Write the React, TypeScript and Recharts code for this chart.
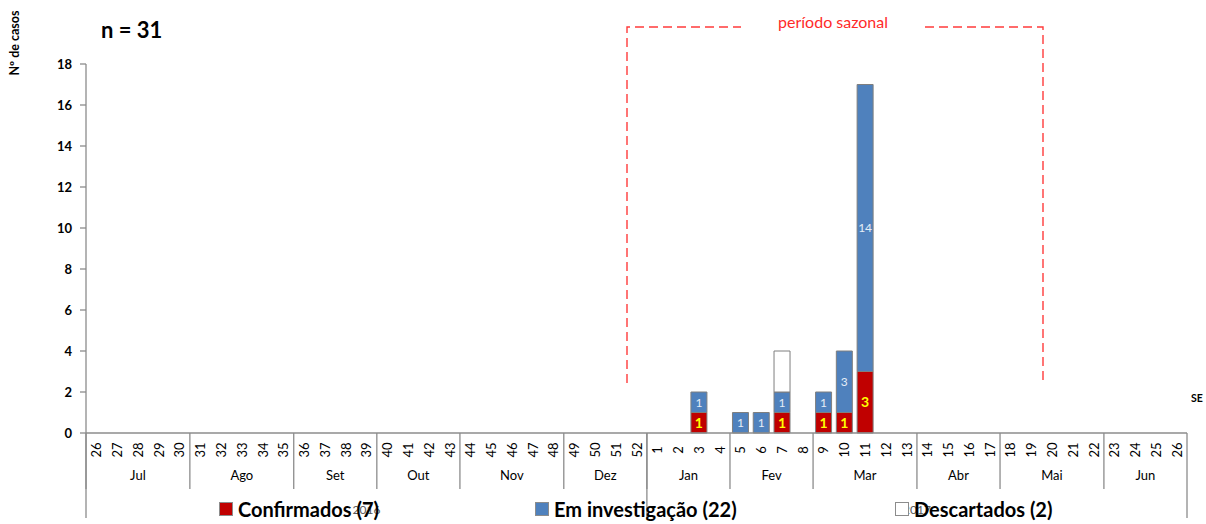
import React from 'react';
import { Bar, BarChart, XAxis, YAxis, Legend, LabelList } from 'recharts';

// semanas epidemiológicas (SE 26/2016 até SE 26/2017)
const weeks = [
  '26', '27', '28', '29', '30', '31', '32', '33', '34', '35', '36', '37', '38', '39', '40', '41', '42', '43',
  '44', '45', '46', '47', '48', '49', '50', '51', '52',
  '1', '2', '3', '4', '5', '6', '7', '8', '9', '10', '11', '12', '13', '14', '15', '16', '17', '18', '19',
  '20', '21', '22', '23', '24', '25', '26',
];

const confirmados = [
  0, 0, 0, 0, 0, 0, 0, 0, 0, 0, 0, 0, 0, 0, 0, 0, 0, 0, 0, 0, 0, 0, 0, 0, 0, 0, 0,
  0, 0, 1, 0, 0, 0, 1, 0, 1, 1, 3, 0, 0, 0, 0, 0, 0, 0, 0, 0, 0, 0, 0, 0, 0, 0,
];
const emInvestigacao = [
  0, 0, 0, 0, 0, 0, 0, 0, 0, 0, 0, 0, 0, 0, 0, 0, 0, 0, 0, 0, 0, 0, 0, 0, 0, 0, 0,
  0, 0, 1, 0, 1, 1, 1, 0, 1, 3, 14, 0, 0, 0, 0, 0, 0, 0, 0, 0, 0, 0, 0, 0, 0, 0,
];
const descartados = [
  0, 0, 0, 0, 0, 0, 0, 0, 0, 0, 0, 0, 0, 0, 0, 0, 0, 0, 0, 0, 0, 0, 0, 0, 0, 0, 0,
  0, 0, 0, 0, 0, 0, 2, 0, 0, 0, 0, 0, 0, 0, 0, 0, 0, 0, 0, 0, 0, 0, 0, 0, 0, 0,
];

const months = ['Jul', 'Ago', 'Set', 'Out', 'Nov', 'Dez', 'Jan', 'Fev', 'Mar', 'Abr', 'Mai', 'Jun'];
const monthWeeks = [5, 5, 4, 4, 5, 4, 4, 4, 5, 4, 5, 4];
const years = ['2016', '2017'];
const yearWeeks = [27, 26];

const yTicks = [0, 2, 4, 6, 8, 10, 12, 14, 16, 18];

const data = weeks.map((w, i) => ({
  key: i,
  week: w,
  conf: confirmados[i] || null,
  inv: emInvestigacao[i] || null,
  desc: descartados[i] || null,
}));

// start index -> group info
const monthStarts: Record<number, { label: string; span: number }> = {};
let acc = 0;
months.forEach((m, i) => {
  monthStarts[acc] = { label: m, span: monthWeeks[i] };
  acc += monthWeeks[i];
});
const yearStarts: Record<number, { label: string; span: number }> = {};
acc = 0;
years.forEach((y, i) => {
  yearStarts[acc] = { label: y, span: yearWeeks[i] };
  acc += yearWeeks[i];
});

const GRAY = '#8c8c8c';
const FONT = 'Lato, "Liberation Sans", sans-serif';

function WeekTick(props: any) {
  const { x, y, payload, index } = props;
  const half = payload && payload.offset ? payload.offset : 10.39;
  const left = x - half;
  const m = monthStarts[index];
  const yr = yearStarts[index];
  const last = index === weeks.length - 1;
  return (
    <g>
      <g transform={`translate(${x}, ${y + 17}) rotate(-90)`}>
        <text x={0} y={0} textAnchor="middle" dominantBaseline="central" fontSize={13} fill="#000" fontFamily={FONT}>
          {weeks[index]}
        </text>
      </g>
      {m && (
        <>
          <line x1={left} x2={left} y1={y} y2={y + 56} stroke={GRAY} strokeWidth={1.3} />
          <text x={left + m.span * half} y={y + 47} textAnchor="middle" fontSize={13} fill="#000" fontFamily={FONT}>
            {m.label}
          </text>
        </>
      )}
      {yr && (
        <>
          <line x1={left} x2={left} y1={y} y2={y + 85} stroke={GRAY} strokeWidth={1.3} />
          <text x={left + yr.span * half} y={y + 81} textAnchor="middle" fontSize={12} fill="#595959" fontFamily={FONT}>
            {yr.label}
          </text>
        </>
      )}
      {last && <line x1={x + half} x2={x + half} y1={y} y2={y + 85} stroke={GRAY} strokeWidth={1.3} />}
    </g>
  );
}

const legendItems = [
  { label: 'Confirmados (7)', color: '#c00000', left: 219 },
  { label: 'Em investigação (22)', color: '#4f81bd', left: 535 },
  { label: 'Descartados (2)', color: '#ffffff', left: 895 },
];

function renderLegend() {
  return (
    <div style={{ position: 'relative', width: 1206, height: 24 }}>
      {legendItems.map((it) => (
        <div
          key={it.label}
          style={{
            position: 'absolute',
            left: it.left,
            top: 0,
            display: 'flex',
            alignItems: 'center',
            fontFamily: FONT,
            fontWeight: 'bold',
            fontSize: 20,
            color: '#000',
            whiteSpace: 'nowrap',
          }}
        >
          <span
            style={{
              display: 'inline-block',
              width: 12,
              height: 12,
              background: it.color,
              border: '1px solid #8c8c8c',
              marginRight: 5,
            }}
          />
          {it.label}
        </div>
      ))}
    </div>
  );
}

const hideZero = (v: any) => (v ? v : '');

export default function App() {
  return (
    <div style={{ position: 'absolute', left: 0, top: 0, width: 1206, height: 524, background: '#fff', fontFamily: FONT }}>
      <BarChart
        width={1206}
        height={524}
        data={data}
        margin={{ top: 64, right: 19, bottom: 0, left: 46 }}
        barCategoryGap="12%"
      >
        <XAxis
          dataKey="key"
          interval={0}
          height={91}
          tickLine={false}
          tickSize={0}
          tickMargin={0}
          axisLine={{ stroke: GRAY, strokeWidth: 1.3 }}
          tick={<WeekTick />}
        />
        <YAxis
          type="number"
          domain={[0, 18]}
          ticks={yTicks}
          width={40}
          tickSize={6}
          tickMargin={8}
          axisLine={{ stroke: GRAY, strokeWidth: 1.3 }}
          tickLine={{ stroke: GRAY, strokeWidth: 1.3 }}
          tick={{ fontSize: 13, fontWeight: 'bold', fill: '#000', fontFamily: FONT }}
        />
        <Legend
          layout="horizontal"
          verticalAlign="middle"
          content={renderLegend}
          wrapperStyle={{ top: 497, left: 0, width: 1206 }}
        />
        <Bar dataKey="conf" stackId="a" fill="#c00000" stroke="#7f7f7f" strokeWidth={1} isAnimationActive={false}>
          <LabelList dataKey="conf" position="center" formatter={hideZero} fill="#ffff00" fontWeight="bold" fontSize={14} fontFamily={FONT} />
        </Bar>
        <Bar dataKey="inv" stackId="a" fill="#4f81bd" stroke="#7f7f7f" strokeWidth={1} isAnimationActive={false}>
          <LabelList dataKey="inv" position="center" formatter={hideZero} fill="#e6edf6" fontSize={12} fontFamily={FONT} />
        </Bar>
        <Bar dataKey="desc" stackId="a" fill="#ffffff" stroke="#7f7f7f" strokeWidth={1} isAnimationActive={false} />
      </BarChart>

      <svg width={1206} height={524} style={{ position: 'absolute', left: 0, top: 0, pointerEvents: 'none' }}>
        <g transform="translate(14, 43) rotate(-90)">
          <text x={0} y={0} textAnchor="middle" dominantBaseline="central" fontSize={12.5} fontWeight="bold" fontFamily={FONT} fill="#000">
            Nº de casos
          </text>
        </g>
        <text x={101} y={38} fontSize={22} fontWeight="bold" fontFamily={FONT} fill="#000">
          n = 31
        </text>
        <text x={1197} y={402} textAnchor="middle" fontSize={10.5} fontWeight="bold" fontFamily={FONT} fill="#000">
          SE
        </text>
        <g stroke="#ff3b3b" strokeWidth={1.4} strokeDasharray="9 5" fill="none">
          <path d="M627 383 L627 27 L741 27" />
          <path d="M925 27 L1043 27 L1043 383" />
        </g>
        <text x={833} y={28} textAnchor="middle" fontSize={16} fontFamily={FONT} fill="#ff2a2a">
          período sazonal
        </text>
      </svg>
    </div>
  );
}
